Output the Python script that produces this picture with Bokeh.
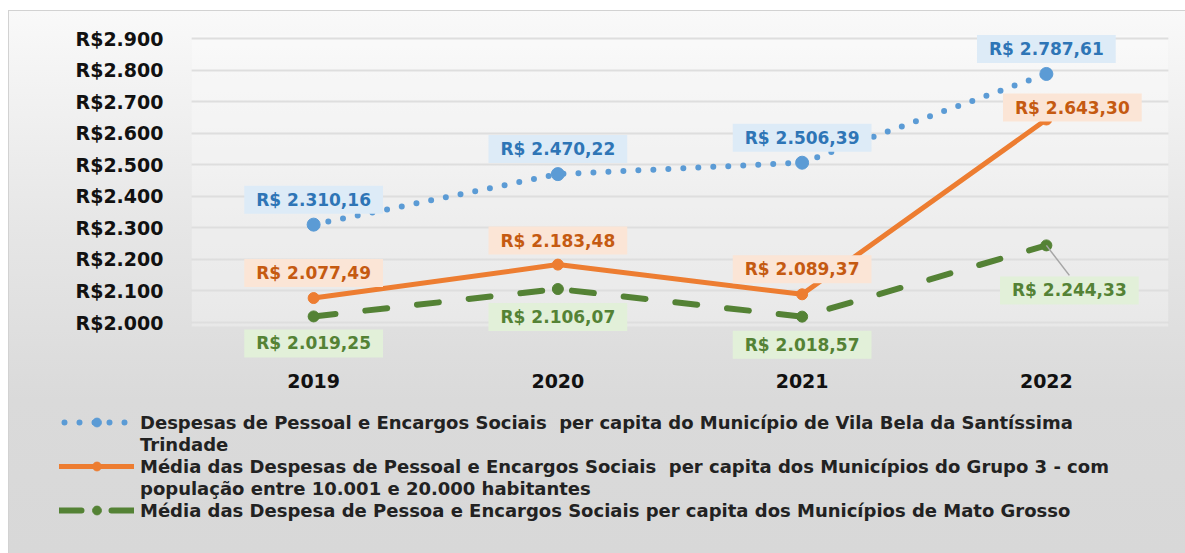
from bokeh.plotting import figure
from bokeh.models import Label, Legend, LegendItem, FixedTicker, BoxAnnotation
from bokeh.embed import file_html
from bokeh.resources import INLINE

# ---- data ----
years = ["2019", "2020", "2021", "2022"]
vila_bela = [2310.16, 2470.22, 2506.39, 2787.61]
grupo3 = [2077.49, 2183.48, 2089.37, 2643.30]
mato_grosso = [2019.25, 2106.07, 2018.57, 2244.33]
y_ticks = [2000, 2100, 2200, 2300, 2400, 2500, 2600, 2700, 2800, 2900]
y_tick_labels = ["R$2.000", "R$2.100", "R$2.200", "R$2.300", "R$2.400",
                 "R$2.500", "R$2.600", "R$2.700", "R$2.800", "R$2.900"]
legend_labels = [
    "Despesas de Pessoal e Encargos Sociais  per capita do Município de Vila Bela da Santíssima\nTrindade",
    "Média das Despesas de Pessoal e Encargos Sociais  per capita dos Municípios do Grupo 3 - com\npopulação entre 10.001 e 20.000 habitantes",
    "Média das Despesa de Pessoa e Encargos Sociais per capita dos Municípios de Mato Grosso",
]

FONT = "DejaVu Sans"
BLUE, ORANGE, GREEN = "#5B9BD5", "#ED7D31", "#548235"
NAN = float("nan")


def brl(v):
    s = f"{v:,.2f}"
    s = s.replace(",", "#").replace(".", ",").replace("#", ".")
    return "R$ " + s


xs = list(range(len(years)))

W = 1185
H_TOP, H_BOT = 400, 153
PPU = 284 / 900.0          # pixels per R$ on the y axis
y_lo = y_ticks[0] - 40 / PPU
y_hi = y_ticks[-1] + 10 / PPU

p = figure(x_range=(-0.5, len(years) - 0.5), y_range=(y_lo, y_hi), width=W, height=H_TOP,
           output_backend="svg", toolbar_location=None,
           min_border_left=191, min_border_right=17,
           min_border_top=28, min_border_bottom=38)
p.border_fill_alpha = 0
p.background_fill_alpha = 0
p.outline_line_alpha = 0
p.styles = {
    "background": ("linear-gradient(to bottom, #f9f9f9 0%, #e6e6e6 56%, #dadada 100%) "
                   "9px 11px / calc(100% - 9px) calc(100% - 11px) no-repeat, "
                   "linear-gradient(#d2d2d2, #d2d2d2) 8px 10px / calc(100% - 8px) calc(100% - 10px) no-repeat, "
                   "#ffffff"),
}

# lighter plot area
p.add_layout(BoxAnnotation(left=-0.5, right=len(years) - 0.5,
                           bottom=y_ticks[0] - 4 / PPU, top=y_ticks[-1] + 3 / PPU,
                           fill_color="white", fill_alpha=0.3, line_alpha=0, level="underlay"))

p.xgrid.grid_line_alpha = 0
p.ygrid.grid_line_color = "#d0d0d0"
p.ygrid.grid_line_width = 2

p.xaxis.ticker = FixedTicker(ticks=xs)
p.xaxis.major_label_overrides = {i: y for i, y in zip(xs, years)}
p.yaxis.ticker = FixedTicker(ticks=y_ticks)
p.yaxis.major_label_overrides = {t: l for t, l in zip(y_ticks, y_tick_labels)}
for ax in (p.xaxis, p.yaxis):
    ax.axis_line_alpha = 0
    ax.major_tick_line_alpha = 0
    ax.minor_tick_line_alpha = 0
    ax.major_tick_out = 0
    ax.major_tick_in = 0
    ax.minor_tick_out = 0
    ax.major_label_text_font = FONT
    ax.major_label_text_font_style = "bold"
    ax.major_label_text_font_size = "19px"
    ax.major_label_text_color = "#111111"
p.yaxis.major_label_standoff = 28
p.xaxis.major_label_standoff = 11

# ---- series ----
blue_line = dict(line_color=BLUE, line_width=6, line_dash="0 15", line_cap="round")
orange_line = dict(line_color=ORANGE, line_width=5, line_cap="round")
green_line = dict(line_color=GREEN, line_width=6, line_dash="22 30", line_cap="round")

p.line(xs, vila_bela, **blue_line)
p.scatter(xs, vila_bela, size=13, color=BLUE)
p.line(xs, grupo3, **orange_line)
p.scatter(xs, grupo3, size=11, color=ORANGE)
p.line(xs, mato_grosso, **green_line)
p.scatter(xs, mato_grosso, size=11, color=GREEN)

# ---- data labels ----
blue_off = [(0, 25), (0, 25), (0, 25), (0, 25)]
orange_off = [(0, 25), (0, 24), (0, 25), (26, 12)]
green_off = [(0, -27), (0, -28), (0, -28), (23, -45)]

styles = [
    (vila_bela, blue_off, "#2E75B6", "#DDEBF7"),
    (grupo3, orange_off, "#C55A11", "#FBE5D6"),
    (mato_grosso, green_off, "#548235", "#E2F0D9"),
]

# leader line for the last green label (px offsets converted to data units)
ppx = (1168 - 191) / len(years)
p.segment(x0=[xs[3]], y0=[mato_grosso[3]], x1=[xs[3] + 23 / ppx],
          y1=[mato_grosso[3] - 30 / PPU], line_color="#A6A6A6", line_width=1.5)

for vals, offs, tc, bg in styles:
    for xv, v, (dx, dy) in zip(xs, vals, offs):
        p.add_layout(Label(x=xv, y=v, x_offset=dx, y_offset=dy, text=brl(v),
                           text_align="center", text_baseline="middle",
                           text_font=FONT, text_font_style="bold", text_font_size="17px",
                           text_color=tc, background_fill_color=bg,
                           padding=(12, 4)))

# ---- legend (separate strip below the chart) ----
q = figure(width=W, height=H_BOT, output_backend="svg", toolbar_location=None,
           x_axis_type=None, y_axis_type=None,
           min_border_left=59, min_border_right=0, min_border_top=11, min_border_bottom=0)
q.border_fill_alpha = 0
q.background_fill_alpha = 0
q.outline_line_alpha = 0
q.grid.visible = False
q.styles = {
    "background": ("linear-gradient(to bottom, #dadada 0%, #d8d8d8 100%) "
                   "9px 0px / calc(100% - 9px) 100% no-repeat, "
                   "linear-gradient(#d2d2d2, #d2d2d2) 8px 0px / calc(100% - 8px) 100% no-repeat, "
                   "#ffffff"),
}

# legend proxies: a single NaN point each, so nothing is drawn in the strip itself
proxies = [
    [q.line([NAN], [NAN], line_dash_offset=10, **blue_line), q.scatter([NAN], [NAN], size=13, color=BLUE)],
    [q.line([NAN], [NAN], **orange_line), q.scatter([NAN], [NAN], size=11, color=ORANGE)],
    [q.line([NAN], [NAN], **green_line), q.scatter([NAN], [NAN], size=11, color=GREEN)],
]
blank = [q.line([NAN], [NAN], line_alpha=0)]

items = []
for lab, rends in zip(legend_labels, proxies):
    lines = lab.split("\n")
    items.append(LegendItem(label=lines[0], renderers=rends))
    for extra in lines[1:]:
        items.append(LegendItem(label=extra, renderers=blank))

legend = Legend(items=items, location="top_left", glyph_width=75, glyph_height=22, label_standoff=6,
                label_height=22,
                label_text_font=FONT, label_text_font_style="bold", label_text_font_size="18px",
                label_text_color="#222222", spacing=0, padding=0, margin=0,
                border_line_alpha=0, background_fill_alpha=0)
q.add_layout(legend, "center")

open("out.html", "w").write(file_html([p, q], INLINE))
